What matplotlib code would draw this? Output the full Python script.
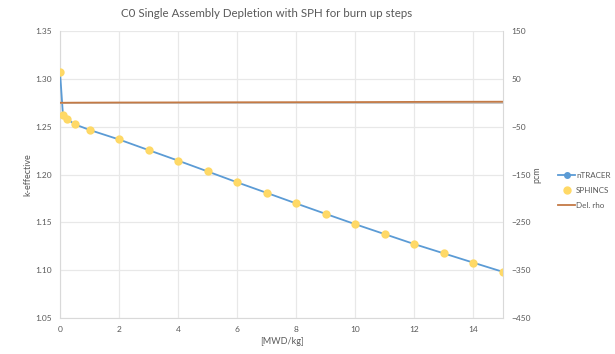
import matplotlib
matplotlib.use('Agg')
import matplotlib.pyplot as plt
import numpy as np

plt.rcParams['font.family'] = ['Lato', 'DejaVu Sans']

burnup = [0, 0.1, 0.25, 0.5, 1, 2, 3, 4, 5, 6, 7, 8, 9, 10, 11, 12, 13, 14, 15]
k_ntracer = [1.3070, 1.2620, 1.2578, 1.2525, 1.2466, 1.2366, 1.2255, 1.2145, 1.2032,
             1.1918, 1.1808, 1.1697, 1.1588, 1.1480, 1.1376, 1.1272, 1.1175, 1.1078, 1.0982]
k_sphincs = [1.3070, 1.2620, 1.2578, 1.2525, 1.2466, 1.2366, 1.2255, 1.2145, 1.2032,
             1.1918, 1.1808, 1.1697, 1.1588, 1.1480, 1.1376, 1.1272, 1.1175, 1.1078, 1.0982]
del_rho = [0.0, 0.0, 0.1, 0.2, 0.3, 0.5, 0.6, 0.7, 0.9, 1.0, 1.1, 1.2, 1.3, 1.4, 1.6, 1.8, 2.0, 2.1, 2.2]

grey = '#595959'
grid_c = '#E8E8E8'
blue = '#5B9BD5'
yellow = '#FFD966'
orange = '#C47A45'

fig = plt.figure(figsize=(6.15, 3.54), dpi=100)
ax = fig.add_axes([0.0976, 0.1017, 0.7203, 0.8107])
ax2 = ax.twinx()

ax.plot(burnup, k_ntracer, color=blue, lw=1.3, marker='o', ms=4, label='nTRACER', zorder=3)
ax.plot(burnup, k_sphincs, color=yellow, lw=0, marker='o', ms=5, label='SPHINCS', zorder=4)
ax2.axhline(0, color='#BFBFBF', lw=1.2, zorder=1)
ax2.plot(burnup, del_rho, color=orange, lw=1.3, label='Del. rho', zorder=2)

ax.set_xlim(0, 15)
ax.set_ylim(1.05, 1.35)
ax2.set_ylim(-450, 150)
ax.set_xticks(np.arange(0, 15, 2))
ax.set_yticks(np.arange(1.05, 1.351, 0.05))
ax.yaxis.set_major_formatter(matplotlib.ticker.FormatStrFormatter('%.2f'))
ax2.set_yticks(np.arange(-450, 151, 100))

ax.grid(True, color=grid_c, lw=0.9)
ax.set_axisbelow(True)
for a in (ax, ax2):
    a.tick_params(length=0, labelsize=6, labelcolor=grey, pad=6)
    for s in a.spines.values():
        s.set_visible(False)
ax.spines['left'].set_visible(True)
ax.spines['bottom'].set_visible(True)
ax.spines['left'].set_color('#D9D9D9')
ax.spines['bottom'].set_color('#D9D9D9')
ax2.spines['right'].set_visible(True)
ax2.spines['right'].set_color('#D9D9D9')

ax.set_xlabel('[MWD/kg]', fontsize=6.5, color=grey, labelpad=3)
ax.set_ylabel('k-effective', fontsize=6.5, color=grey, labelpad=2)
ax2.set_ylabel('pcm', fontsize=6.5, color=grey, labelpad=1)
fig.text(0.433, 0.963, 'C0 Single Assembly Depletion with SPH for burn up steps', fontsize=8.3,
         color=grey, ha='center', va='center')

h1, l1 = ax.get_legend_handles_labels()
h2, l2 = ax2.get_legend_handles_labels()
leg = fig.legend(h1 + h2, l1 + l2, loc='center left', bbox_to_anchor=(0.895, 0.463),
                 frameon=False, fontsize=5.8, handlelength=2.2, handletextpad=0.1,
                 labelspacing=1.0)
for t in leg.get_texts():
    t.set_color(grey)

fig.savefig('out.png', dpi=100)
